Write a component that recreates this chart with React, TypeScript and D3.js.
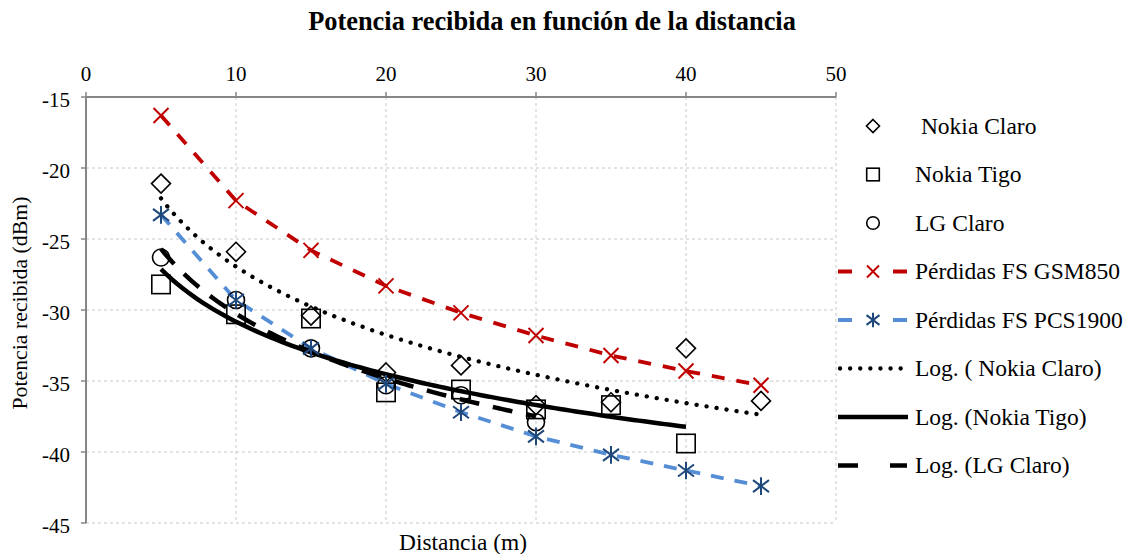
import React from "react";
import * as d3 from "d3";

const distances = [5, 10, 15, 20, 25, 30, 35, 40, 45];
const nokiaClaro = [-21.1, -25.9, -30.4, -34.4, -33.9, -36.7, -36.5, -32.7, -36.4];
const nokiaTigo = [-28.2, -30.3, -30.6, -35.8, -35.6, -37.0, -36.7, -39.4];
const lgClaro = [-26.3, -29.3, -32.7, -35.3, -36.0, -37.9];
const gsm850 = [-16.3, -22.3, -25.8, -28.3, -30.2, -31.8, -33.2, -34.3, -35.3];
const pcs1900 = [-23.3, -29.3, -32.7, -35.2, -37.2, -38.9, -40.2, -41.3, -42.4];
const xTicks = [0, 10, 20, 30, 40, 50];
const yTicks = [-15, -20, -25, -30, -35, -40, -45];

const legendLabels = [
  "\u00a0Nokia Claro",
  "Nokia Tigo",
  "LG Claro",
  "Pérdidas FS GSM850",
  "Pérdidas FS PCS1900",
  "Log. ( Nokia Claro)",
  "Log. (Nokia Tigo)",
  "Log. (LG Claro)",
];

const W = 1135;
const H = 554;
const L = 86, R = 836, T = 97, B = 523;
const FONT = "'Liberation Serif', 'Times New Roman', serif";
const RED = "#C00000";
const BLUE_LINE = "#558ED5";
const BLUE_MARK = "#1F497D";

function logFit(xs: number[], ys: number[]) {
  const lx = ys.map((_, i) => Math.log(xs[i]));
  const n = ys.length;
  const mx = d3.mean(lx)!;
  const my = d3.mean(ys)!;
  let sxy = 0, sxx = 0;
  for (let i = 0; i < n; i++) {
    sxy += (lx[i] - mx) * (ys[i] - my);
    sxx += (lx[i] - mx) * (lx[i] - mx);
  }
  const a = sxy / sxx;
  const b = my - a * mx;
  return (x: number) => a * Math.log(x) + b;
}

export default function App() {
  const x = d3.scaleLinear().domain([0, 50]).range([L, R]);
  const y = d3.scaleLinear().domain([-15, -45]).range([T, B]);

  const lineGen = d3
    .line<[number, number]>()
    .x((d) => x(d[0]))
    .y((d) => y(d[1]));

  const pts = (vals: number[]) => vals.map((v, i) => [distances[i], v] as [number, number]);

  const trend = (vals: number[]) => {
    const f = logFit(distances, vals);
    const x0 = distances[0];
    const x1 = distances[vals.length - 1];
    const arr: [number, number][] = d3.range(0, 101).map((k) => {
      const xv = x0 + ((x1 - x0) * k) / 100;
      return [xv, f(xv)];
    });
    return lineGen(arr)!;
  };

  const diamond = (cx: number, cy: number, s: number, key: string) => (
    <path
      key={key}
      d={`M${cx},${cy - s} L${cx + s},${cy} L${cx},${cy + s} L${cx - s},${cy} Z`}
      fill="none"
      stroke="black"
      strokeWidth={1.6}
    />
  );
  const square = (cx: number, cy: number, s: number, key: string) => (
    <rect key={key} x={cx - s} y={cy - s} width={2 * s} height={2 * s} fill="none" stroke="black" strokeWidth={1.6} />
  );
  const circle = (cx: number, cy: number, r: number, key: string) => (
    <circle key={key} cx={cx} cy={cy} r={r} fill="none" stroke="black" strokeWidth={1.6} />
  );
  const xMark = (cx: number, cy: number, s: number, key: string) => (
    <path key={key} d={`M${cx - s},${cy - s} L${cx + s},${cy + s} M${cx - s},${cy + s} L${cx + s},${cy - s}`} stroke={RED} strokeWidth={2} />
  );
  const asterisk = (cx: number, cy: number, s: number, key: string) => (
    <path
      key={key}
      d={`M${cx - s},${cy - s * 0.75} L${cx + s},${cy + s * 0.75} M${cx - s},${cy + s * 0.75} L${cx + s},${cy - s * 0.75} M${cx},${cy - s * 1.1} L${cx},${cy + s * 1.1}`}
      stroke={BLUE_MARK}
      strokeWidth={2}
    />
  );

  const legendX = 873;
  const legendTextX = 915;
  const legendY0 = 126;
  const legendStep = 48.5;

  return (
    <svg width={W} height={H} style={{ position: "absolute", left: 0, top: 0 }} fontFamily={FONT}>
      <rect width={W} height={H} fill="white" />
      <text x={552} y={30} textAnchor="middle" fontSize={26.4} fontWeight="bold">
        Potencia recibida en función de la distancia
      </text>

      {/* grid */}
      {xTicks.filter((t) => t > 0).map((t) => (
        <line key={"gx" + t} x1={x(t)} x2={x(t)} y1={T} y2={B} stroke="#C8C8C8" strokeDasharray="3,3" strokeWidth={1} />
      ))}
      {yTicks.filter((t) => t !== -15).map((t) => (
        <line key={"gy" + t} x1={L} x2={R} y1={y(t)} y2={y(t)} stroke="#C8C8C8" strokeDasharray="3,3" strokeWidth={1} />
      ))}

      {/* axes */}
      <line x1={L} x2={R} y1={T} y2={T} stroke="#868686" strokeWidth={2} />
      <line x1={L} x2={L} y1={T} y2={B} stroke="#868686" strokeWidth={2} />
      {xTicks.map((t) => (
        <g key={"xt" + t}>
          <line x1={x(t)} x2={x(t)} y1={T - 5} y2={T} stroke="#868686" strokeWidth={1.5} />
          <text x={x(t)} y={81} textAnchor="middle" fontSize={21}>
            {t}
          </text>
        </g>
      ))}
      {yTicks.map((t) => (
        <g key={"yt" + t}>
          <line x1={L - 5} x2={L} y1={y(t)} y2={y(t)} stroke="#868686" strokeWidth={1.5} />
          <text x={L - 16} y={y(t) + 9.5} textAnchor="end" fontSize={21}>
            {t}
          </text>
        </g>
      ))}

      <text x={463} y={550} textAnchor="middle" fontSize={23.4}>
        Distancia (m)
      </text>
      <text transform={`translate(27,303) rotate(-90)`} textAnchor="middle" fontSize={21.8}>
        Potencia recibida (dBm)
      </text>

      {/* series lines */}
      <path d={lineGen(pts(gsm850))!} fill="none" stroke={RED} strokeWidth={3.8} strokeDasharray="13,12" />
      <path d={lineGen(pts(pcs1900))!} fill="none" stroke={BLUE_LINE} strokeWidth={3.8} strokeDasharray="13,11" />
      <path d={trend(nokiaClaro)} fill="none" stroke="black" strokeWidth={4.3} strokeDasharray="0.1,10" strokeLinecap="round" />
      <path d={trend(nokiaTigo)} fill="none" stroke="black" strokeWidth={4.5} />
      <path d={trend(lgClaro)} fill="none" stroke="black" strokeWidth={4.5} strokeDasharray="20,14" />

      {/* markers */}
      {nokiaClaro.map((v, i) => diamond(x(distances[i]), y(v), 9.5, "d" + i))}
      {nokiaTigo.map((v, i) => square(x(distances[i]), y(v), 9.2, "s" + i))}
      {lgClaro.map((v, i) => circle(x(distances[i]), y(v), 8.5, "c" + i))}
      {gsm850.map((v, i) => xMark(x(distances[i]), y(v), 7.5, "x" + i))}
      {pcs1900.map((v, i) => asterisk(x(distances[i]), y(v), 8, "a" + i))}

      {/* legend */}
      {legendLabels.map((lab, i) => {
        const cy = legendY0 + i * legendStep;
        let sym: React.ReactNode = null;
        if (i === 0) sym = diamond(legendX, cy, 6.5, "ld");
        if (i === 1) sym = square(legendX, cy, 6.3, "ls");
        if (i === 2) sym = circle(legendX, cy, 6.3, "lc");
        if (i === 3)
          sym = (
            <g key="lg3">
              <line x1={838} x2={907} y1={cy} y2={cy} stroke={RED} strokeWidth={3.8} strokeDasharray="14,41" />
              {xMark(legendX, cy, 6, "lx")}
            </g>
          );
        if (i === 4)
          sym = (
            <g key="lg4">
              <line x1={838} x2={907} y1={cy} y2={cy} stroke={BLUE_LINE} strokeWidth={3.8} strokeDasharray="14,41" />
              {asterisk(legendX, cy, 6.5, "la")}
            </g>
          );
        if (i === 5)
          sym = <line key="lg5" x1={840} x2={906} y1={cy} y2={cy} stroke="black" strokeWidth={4.3} strokeDasharray="0.1,10" strokeLinecap="round" />;
        if (i === 6) sym = <line key="lg6" x1={838} x2={908} y1={cy} y2={cy} stroke="black" strokeWidth={4.5} />;
        if (i === 7) sym = <line key="lg7" x1={838} x2={907} y1={cy} y2={cy} stroke="black" strokeWidth={4.5} strokeDasharray="20,32" />;
        return (
          <g key={"leg" + i}>
            {sym}
            <text x={legendTextX} y={cy + 7.5} fontSize={23.5}>
              {lab}
            </text>
          </g>
        );
      })}
    </svg>
  );
}
